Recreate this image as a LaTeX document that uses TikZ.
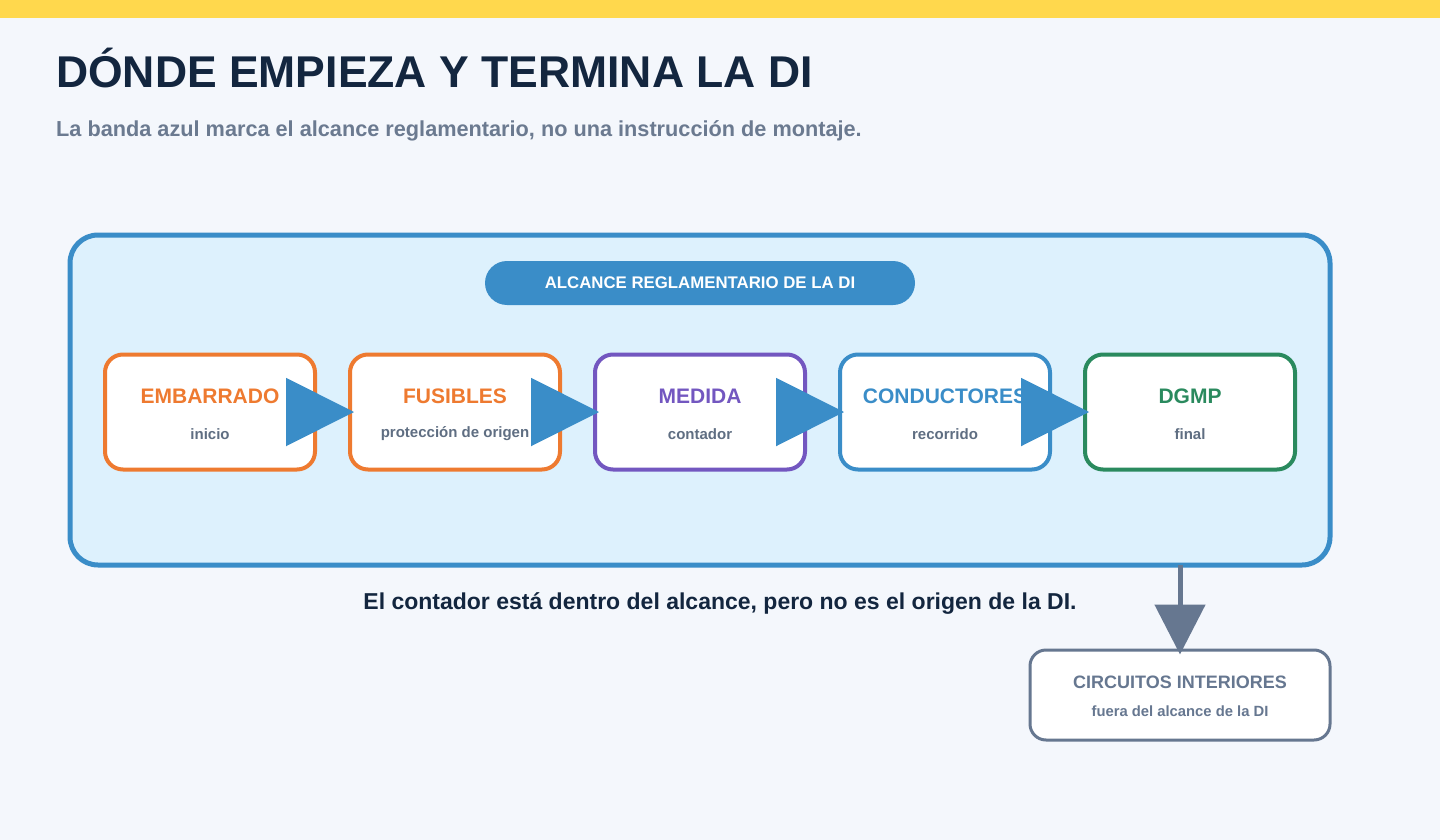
\documentclass[tikz,border=0pt]{standalone}
\usepackage{fontspec}
\setmainfont{Liberation Sans}
\usetikzlibrary{arrows.meta}
\definecolor{bg}{HTML}{F4F7FC}
\definecolor{topbar}{HTML}{FFD84D}
\definecolor{navy}{HTML}{13263F}
\definecolor{subg}{HTML}{6B7A90}
\definecolor{myblue}{HTML}{3A8DC8}
\definecolor{lblue}{HTML}{DDF1FD}
\definecolor{orng}{HTML}{EE7A30}
\definecolor{purp}{HTML}{7357C0}
\definecolor{grn}{HTML}{2A8A5E}
\definecolor{mygray}{HTML}{667790}
\definecolor{sgray}{HTML}{5F6E82}
\tikzset{
 step/.style={draw=#1, line width=4pt, rounded corners=18pt, fill=white, minimum width=210pt, minimum height=115pt, inner sep=0pt},
 ttl/.style={font=\fontsize{21}{25}\selectfont\bfseries},
 sub/.style={font=\fontsize{15}{18}\selectfont\bfseries, text=sgray},
 flow/.style={draw=myblue, fill=myblue, line width=2pt, -{Triangle[length=68pt,width=68pt]}, shorten >=-6pt},
}
\begin{document}
\begin{tikzpicture}[x=1pt,y=-1pt]
\fill[bg] (0,0) rectangle (1440,840);
\fill[topbar] (0,0) rectangle (1440,18);
\useasboundingbox (0,0) rectangle (1440,840);
\node[anchor=base west, text=navy, font=\fontsize{44.5}{54}\selectfont\bfseries, inner sep=0pt] (title) at (56,88) {DÓNDE EMPIEZA Y TERMINA LA DI};
\node[anchor=base west, text=subg, font=\fontsize{21.7}{26}\selectfont\bfseries, inner sep=0pt] (subtitle) at (56,137) {La banda azul marca el alcance reglamentario, no una instrucción de montaje.};
\node[draw=myblue, line width=5pt, fill=lblue, rounded corners=28pt, minimum width=1260pt, minimum height=330pt] (scope) at (700,400) {};
\node[fill=myblue, rounded corners=22pt, minimum width=430pt, minimum height=44pt, text=white, font=\fontsize{16.8}{20}\selectfont\bfseries] (pill) at (700,283) {ALCANCE REGLAMENTARIO DE LA DI};
\foreach \n/\x/\c/\t/\s in {a/210/orng/EMBARRADO/inicio, b/455/orng/FUSIBLES/protección de origen, c/700/purp/MEDIDA/contador, d/945/myblue/CONDUCTORES/recorrido, e/1190/grn/DGMP/final}{
  \node[step=\c] (\n) at (\x,412) {};
  \node[ttl, text=\c] (\n t) at (\x,396) {\t};
  \node[sub] (\n s) at (\x,434) {\s};
}
\draw[flow] (a) -- (b);
\draw[flow] (b) -- (c);
\draw[flow] (c) -- (d);
\draw[flow] (d) -- (e);
\node[text=navy, font=\fontsize{23}{27}\selectfont\bfseries] (note) at (720,603) {El contador está dentro del alcance, pero no es el origen de la DI.};
\node[draw=mygray, line width=3pt, fill=white, rounded corners=16pt, minimum width=300pt, minimum height=90pt] (out) at (1180,695) {};
\node[text=mygray, font=\fontsize{18}{21}\selectfont\bfseries] (outt) at (1180,682) {CIRCUITOS INTERIORES};
\node[text=mygray, font=\fontsize{14.8}{17}\selectfont\bfseries] (outs) at (1180,711) {fuera del alcance de la DI};
\coordinate (dn) at (1180,565);
\draw[draw=mygray, fill=mygray, line width=5pt, -{Triangle[length=50pt,width=50pt]}, shorten >=-6pt] (dn) -- (out.north);
\end{tikzpicture}
\end{document}
